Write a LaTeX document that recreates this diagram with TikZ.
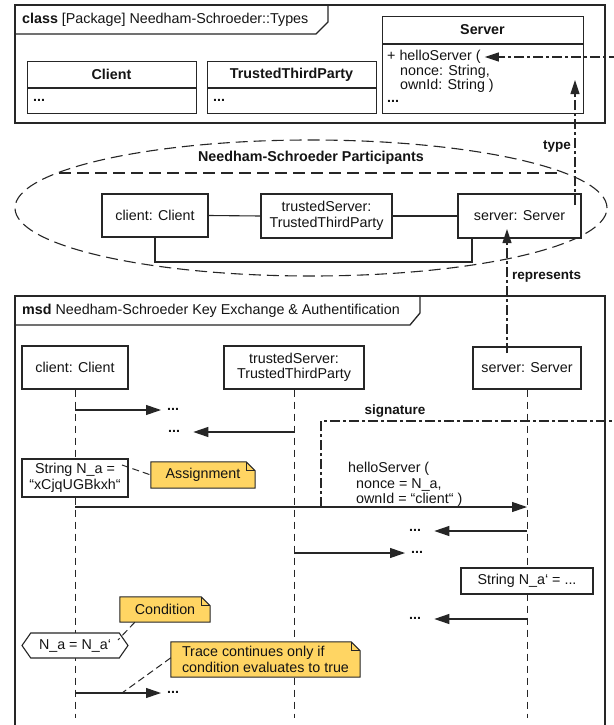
\documentclass[tikz,border=0pt]{standalone}
\usepackage{fontspec}
\setmainfont{Liberation Sans}
\usetikzlibrary{arrows.meta,shapes.geometric,shapes.misc,shapes.symbols,calc}
\definecolor{ln}{HTML}{262626}
\definecolor{txt}{HTML}{141414}
\definecolor{notey}{HTML}{FFD563}
\pgfdeclarelayer{bgw}
\pgfdeclarelayer{lifel}
\pgfdeclarelayer{notefill}
\pgfsetlayers{bgw,lifel,notefill,main}
\newcommand\notepoly[1]{%
  \begin{pgfonlayer}{notefill}
  \filldraw[draw=ln, line width=1pt, fill=notey] (#1.south west) -- (#1.north west)
    -- ($(#1.north east)+(-9pt,0)$) -- ($(#1.north east)+(0,-9pt)$) -- (#1.south east) -- cycle;
  \draw[ln, line width=1pt] ($(#1.north east)+(-9pt,0)$) |- ($(#1.north east)+(0,-9pt)$);
  \end{pgfonlayer}}
\begin{document}
\begin{tikzpicture}[x=1pt,y=-1pt,
  font=\fontsize{14.3}{15.5}\selectfont, text=txt,
  every node/.style={inner sep=0pt},
  frame/.style={draw=ln, line width=1.3pt},
  box/.style={draw=ln, line width=1.1pt, fill=white, align=center},
  link/.style={draw=ln, line width=1.1pt},
  lifeline/.style={draw=ln, line width=0.9pt, dash pattern=on 7pt off 5pt},
  msg/.style={draw=ln, line width=1.1pt, -{Triangle[length=15pt,width=10pt]}},
  dashdot/.style={draw=ln, line width=1.1pt, dash pattern=on 10pt off 3pt on 3pt off 3pt},
  ddarrow/.style={dashdot, -{Triangle[length=14pt,width=9pt]}},
  notelink/.style={draw=ln, line width=1pt, dash pattern=on 7pt off 4pt},
  dots/.style={font=\fontsize{14.3}{15.5}\selectfont\bfseries},
  notebox/.style={rectangle, align=left, inner xsep=6pt},
  lbl/.style={font=\fontsize{13.5}{15}\selectfont\bfseries}
]
\begin{pgfonlayer}{bgw}
\fill[white] (0,0) rectangle (613,725);
\end{pgfonlayer}
\useasboundingbox (0,0) rectangle (613,725);

% ---------------- class package frame ----------------
\draw[frame] (15,5) rectangle (605,123);
\draw[frame] (15,34) -- (316,34) -- (328,22) -- (328,5);
\node[anchor=west] (cftab) at (22,19.5) {\textbf{class} [Package] Needham-Schroeder::Types};

\node[box, minimum width=169pt, minimum height=52pt, anchor=north west] (ccl) at (27,61) {};
\draw[link] (27,88) -- (196,88);
\node[font=\fontsize{14.3}{15.5}\selectfont\bfseries] (cclt) at (111.5,74.5) {Client};
\node[dots, anchor=west] (ccld) at (33,100) {...};

\node[box, minimum width=169pt, minimum height=52pt, anchor=north west] (cts) at (207,61) {};
\draw[link] (207,88) -- (376,88);
\node[font=\fontsize{14.3}{15.5}\selectfont\bfseries] (ctst) at (291.5,74.5) {TrustedThirdParty};
\node[dots, anchor=west] (ctsd) at (213,100) {...};

\node[box, minimum width=201pt, minimum height=97pt, anchor=north west] (csv) at (382,16) {};
\draw[link] (382,44) -- (583,44);
\node[font=\fontsize{14.3}{15.5}\selectfont\bfseries] (csvt) at (482.5,30) {Server};
\node[anchor=west] (op) at (387,57) {+ helloServer (};
\node[anchor=west] (op2) at (400,71.5) {nonce: String,};
\node[anchor=west] (op3) at (400,86) {ownId: String )};
\node[dots, anchor=west] (csvd) at (387,101) {...};

% ---------------- collaboration ----------------
\node[ellipse, draw=ln, line width=1.1pt, dash pattern=on 12pt off 6pt,
      minimum width=592pt, minimum height=136pt] (coll) at (311,208) {};
\draw[draw=ln, line width=1.1pt, dash pattern=on 12pt off 6pt] (59,173) -- (563,173);
\node[font=\fontsize{14.3}{15.5}\selectfont\bfseries] (collt) at (311,157.5) {Needham-Schroeder Participants};

\node[box, minimum width=106pt, minimum height=43pt] (ocl) at (155,215.5) {client: Client};
\node[box, minimum width=131pt, minimum height=44pt] (ots) at (326.5,216) {trustedServer:\\TrustedThirdParty};
\node[box, minimum width=123pt, minimum height=44pt] (osv) at (519.5,216) {server: Server};
\draw[link] (ocl.east) -- (ots.west);
\draw[link] (ots.east) -- (osv.west);
\coordinate (lk) at (472,262);
\draw[link] (ocl.south) |- (lk) -- (lk |- osv.south);

% type
\coordinate (typeS) at (575,205);
\coordinate (typeE) at (575,80);
\draw[ddarrow] (typeS) -- (typeE);
\node[lbl, anchor=east] (typel) at (571,146) {type};

% ---------------- msd frame ----------------
\draw[frame] (15,296) rectangle (605,745);
\draw[frame] (15,325) -- (410,325) -- (420,313) -- (420,296);
\node[anchor=west] (msdtab) at (22,311) {\textbf{msd} Needham-Schroeder Key Exchange \& Authentification};

% lifeline heads
\node[box, minimum width=106pt, minimum height=43pt] (lcl) at (75,367.5) {client: Client};
\node[box, minimum width=140pt, minimum height=43pt] (lts) at (294,367.5) {trustedServer:\\TrustedThirdParty};
\node[box, minimum width=108pt, minimum height=42pt] (lsv) at (527,368) {server: Server};
\coordinate (bot) at (0,718);
\begin{pgfonlayer}{lifel}
\draw[lifeline] (lcl.south) -- (lcl.south |- bot);
\draw[lifeline] (lts.south) -- (lts.south |- bot);
\draw[lifeline] (lsv.south) -- (lsv.south |- bot);
\end{pgfonlayer}

% represents
\coordinate (repS) at (507,353);
\coordinate (repE) at (507,229);
\draw[ddarrow] (repS) -- (repE);
\node[lbl, anchor=west] (repl) at (512,276) {represents};

% messages
\coordinate (m1s) at (75,410);
\node[dots, anchor=west] (d1) at (167,409) {...};
\draw[msg] (m1s) -- ([xshift=-6pt]d1.west |- m1s);

\coordinate (m2s) at (294,432);
\node[dots, anchor=west] (d2) at (168,431) {...};
\draw[msg] (m2s) -- ([xshift=13pt]d2.east |- m2s);

% assignment
\node[box, minimum width=106pt, minimum height=38pt] (na) at (75,478) {String N\_a =\\“xCjqUGBkxh“};
\node[notebox, minimum width=104pt, minimum height=26pt] (n1) at (203,475) {Assignment};
\notepoly{n1}
\coordinate (n1c) at (122,465);
\draw[notelink] (n1c) -- (n1.west);

% hello
\coordinate (hs) at (75,507);
\coordinate (he) at (527,507);
\draw[msg] (hs) -- (he);
\node[anchor=north west, align=left] (hl) at (348,462) {helloServer (\\\hspace{8pt}nonce = N\_a,\\\hspace{8pt}ownId = “client“ )};

% signature
\coordinate (sigS) at (321,507);
\coordinate (sigR) at (625,421);
\draw[ddarrow] (sigS) |- (sigR) |- ([xshift=4pt]op.east);
\node[lbl] (sigl) at (395,411) {signature};

\coordinate (m4s) at (527,531);
\node[dots, anchor=west] (d4) at (409,530) {...};
\draw[msg] (m4s) -- ([xshift=13pt]d4.east |- m4s);

\coordinate (m5s) at (294,553);
\node[dots, anchor=west] (d5) at (411,552) {...};
\draw[msg] (m5s) -- ([xshift=-6pt]d5.west |- m5s);

\node[box, minimum width=132pt, minimum height=26pt] (nap) at (527,581) {String N\_a‘ = ...};

\coordinate (m6s) at (527,619);
\node[dots, anchor=west] (d6) at (409,618) {...};
\draw[msg] (m6s) -- ([xshift=13pt]d6.east |- m6s);

% condition
\node[box, signal, signal to=west and east, signal pointer angle=110,
      minimum width=106pt, minimum height=25pt, inner xsep=3pt] (inv) at (75,645.5) {N\_a = N\_a‘};
\node[notebox, minimum width=90pt, minimum height=25pt] (n2) at (165,609.5) {Condition};
\notepoly{n2}
\coordinate (n2c) at (118,640);
\draw[notelink] ($(n2.south west)+(15pt,0)$) -- (n2c);

\node[notebox, minimum width=189pt, minimum height=35pt] (n3) at (265.5,659.5) {Trace continues only if\\condition evaluates to true};
\notepoly{n3}
\coordinate (n3c) at (122,693);
\draw[notelink] ($(n3.north west)+(0,-16pt)$) -- (n3c);

\coordinate (m7s) at (75,693);
\node[dots, anchor=west] (d7) at (167,692) {...};
\draw[msg] (m7s) -- ([xshift=-6pt]d7.west |- m7s);
\end{tikzpicture}
\end{document}
